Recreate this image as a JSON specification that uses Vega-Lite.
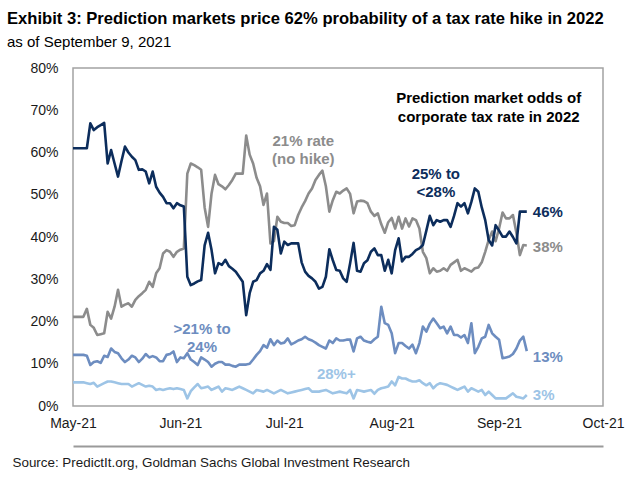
{
  "$schema": "https://vega.github.io/schema/vega-lite/v6.json",
  "width": 530,
  "height": 338,
  "autosize": "none",
  "padding": {"left": 73, "top": 68, "right": 27, "bottom": 72},
  "background": "white",
  "title": {
    "text": "Exhibit 3: Prediction markets price 62% probability of a tax rate hike in 2022",
    "subtitle": "as of September 9, 2021",
    "anchor": "start",
    "frame": "group",
    "dx": -66,
    "offset": 11,
    "font": "Liberation Sans",
    "fontSize": 16.6,
    "fontWeight": "bold",
    "color": "#000000",
    "subtitleFont": "Liberation Sans",
    "subtitleFontSize": 15,
    "subtitleColor": "#000000",
    "subtitlePadding": 7
  },
  "datasets": {
    "odds": [
      {"d":"2021-05-01","a":61,"b":21.1,"c":12.1,"e":5.6},
      {"d":"2021-05-02","a":61,"b":21.1,"c":12.1,"e":5.6},
      {"d":"2021-05-03","a":61,"b":21.1,"c":12.1,"e":5.6},
      {"d":"2021-05-04","a":61,"b":21.1,"c":12.1,"e":5.6},
      {"d":"2021-05-05","a":61,"b":23,"c":11.9,"e":5.4},
      {"d":"2021-05-06","a":66.9,"b":19.2,"c":9.7,"e":5.2},
      {"d":"2021-05-07","a":65.3,"b":18.5,"c":10.4,"e":5.5},
      {"d":"2021-05-08","a":66,"b":16.8,"c":10.6,"e":4.6},
      {"d":"2021-05-09","a":66.5,"b":17,"c":10.2,"e":5},
      {"d":"2021-05-10","a":67,"b":17.2,"c":11.9,"e":5.4},
      {"d":"2021-05-11","a":57.4,"b":22.3,"c":11.6,"e":5.8},
      {"d":"2021-05-12","a":60.6,"b":20.7,"c":13.6,"e":5.8},
      {"d":"2021-05-13","a":57.4,"b":23.5,"c":12.8,"e":5.6},
      {"d":"2021-05-14","a":54.3,"b":27.5,"c":12.5,"e":5.4},
      {"d":"2021-05-15","a":58,"b":23.5,"c":11.3,"e":5.2},
      {"d":"2021-05-16","a":61.4,"b":24,"c":10.4,"e":5.2},
      {"d":"2021-05-17","a":60,"b":24.3,"c":11,"e":5.2},
      {"d":"2021-05-18","a":59,"b":23.5,"c":11.9,"e":4.6},
      {"d":"2021-05-19","a":58.2,"b":25.1,"c":11.5,"e":5},
      {"d":"2021-05-20","a":55.9,"b":26,"c":10.4,"e":5.4},
      {"d":"2021-05-21","a":56,"b":26.7,"c":11.2,"e":5},
      {"d":"2021-05-22","a":55.5,"b":27.5,"c":12.3,"e":4.6},
      {"d":"2021-05-23","a":52.7,"b":29.4,"c":11.5,"e":4.8},
      {"d":"2021-05-24","a":55.5,"b":28.2,"c":11.8,"e":4.6},
      {"d":"2021-05-25","a":51.9,"b":31.4,"c":11.5,"e":3.8},
      {"d":"2021-05-26","a":50.5,"b":32.6,"c":10.6,"e":4},
      {"d":"2021-05-27","a":49.5,"b":36.1,"c":10.6,"e":3.8},
      {"d":"2021-05-28","a":48,"b":36.9,"c":12.1,"e":4},
      {"d":"2021-05-29","a":48,"b":36.5,"c":12.3,"e":4.2},
      {"d":"2021-05-30","a":46.8,"b":35.3,"c":12.9,"e":4},
      {"d":"2021-05-31","a":48,"b":36.5,"c":10.4,"e":4.2},
      {"d":"2021-06-01","a":47.5,"b":37,"c":11.5,"e":4},
      {"d":"2021-06-02","a":47.2,"b":37.3,"c":11.3,"e":3.8},
      {"d":"2021-06-03","a":30.6,"b":55,"c":12.5,"e":1.8},
      {"d":"2021-06-04","a":28.6,"b":57.4,"c":11,"e":3.5},
      {"d":"2021-06-05","a":29,"b":57,"c":10.4,"e":4.4},
      {"d":"2021-06-06","a":29.5,"b":56.5,"c":9.7,"e":5.2},
      {"d":"2021-06-07","a":29.8,"b":55.9,"c":11.5,"e":4.2},
      {"d":"2021-06-08","a":38,"b":47,"c":11,"e":4.4},
      {"d":"2021-06-09","a":41,"b":42.4,"c":10.4,"e":4.6},
      {"d":"2021-06-10","a":36.9,"b":50.3,"c":9.3,"e":3.8},
      {"d":"2021-06-11","a":31.4,"b":54.7,"c":10,"e":4.2},
      {"d":"2021-06-12","a":33.8,"b":52.5,"c":10.4,"e":4.6},
      {"d":"2021-06-13","a":33.4,"b":52,"c":10.4,"e":3.4},
      {"d":"2021-06-14","a":34.6,"b":51.3,"c":9.8,"e":4.2},
      {"d":"2021-06-15","a":33.1,"b":52.3,"c":9.8,"e":4},
      {"d":"2021-06-16","a":32.5,"b":53.5,"c":9.5,"e":3.8},
      {"d":"2021-06-17","a":31.8,"b":55,"c":9.3,"e":4.2},
      {"d":"2021-06-18","a":30.6,"b":55,"c":9.8,"e":4.6},
      {"d":"2021-06-19","a":29.4,"b":55,"c":9.8,"e":4.2},
      {"d":"2021-06-20","a":21.5,"b":64,"c":9.8,"e":3.8},
      {"d":"2021-06-21","a":26.7,"b":59.5,"c":10,"e":3.4},
      {"d":"2021-06-22","a":29.4,"b":57.4,"c":11,"e":3},
      {"d":"2021-06-23","a":29.8,"b":54,"c":12.1,"e":3.8},
      {"d":"2021-06-24","a":31.4,"b":52,"c":13,"e":3.6},
      {"d":"2021-06-25","a":32,"b":47.6,"c":14.4,"e":3.4},
      {"d":"2021-06-26","a":33.6,"b":50.3,"c":13.8,"e":3.8},
      {"d":"2021-06-27","a":32.2,"b":38.5,"c":15.8,"e":3.4},
      {"d":"2021-06-28","a":42.4,"b":39,"c":14.4,"e":3},
      {"d":"2021-06-29","a":41.7,"b":44.8,"c":15.5,"e":3.4},
      {"d":"2021-06-30","a":36.1,"b":43.6,"c":14.8,"e":3.8},
      {"d":"2021-07-01","a":38.9,"b":43.3,"c":15,"e":3.4},
      {"d":"2021-07-02","a":38.1,"b":43.3,"c":16,"e":3},
      {"d":"2021-07-03","a":38.5,"b":42.6,"c":14.6,"e":3.2},
      {"d":"2021-07-04","a":38.5,"b":42.8,"c":15,"e":3.4},
      {"d":"2021-07-05","a":38.5,"b":45.2,"c":15.5,"e":3.6},
      {"d":"2021-07-06","a":34,"b":47,"c":15.8,"e":3.8},
      {"d":"2021-07-07","a":31.8,"b":48.5,"c":16.4,"e":4},
      {"d":"2021-07-08","a":30.8,"b":50.3,"c":15.8,"e":4.2},
      {"d":"2021-07-09","a":30.2,"b":51.5,"c":15.5,"e":3.4},
      {"d":"2021-07-10","a":29.4,"b":53.5,"c":15,"e":3.4},
      {"d":"2021-07-11","a":27.8,"b":54.7,"c":14.4,"e":3.4},
      {"d":"2021-07-12","a":28.2,"b":55.7,"c":14,"e":3.6},
      {"d":"2021-07-13","a":30.6,"b":52,"c":13.6,"e":3.8},
      {"d":"2021-07-14","a":37.1,"b":46,"c":15.5,"e":3.4},
      {"d":"2021-07-15","a":34.5,"b":48.7,"c":14.9,"e":3},
      {"d":"2021-07-16","a":32.2,"b":50.7,"c":16,"e":3.2},
      {"d":"2021-07-17","a":32,"b":50.3,"c":15.5,"e":3.4},
      {"d":"2021-07-18","a":30.2,"b":51,"c":15.5,"e":3.2},
      {"d":"2021-07-19","a":29.4,"b":51.5,"c":15.7,"e":3},
      {"d":"2021-07-20","a":33.8,"b":50.2,"c":15.7,"e":3.8},
      {"d":"2021-07-21","a":38.6,"b":45.6,"c":12.9,"e":1.8},
      {"d":"2021-07-22","a":32,"b":48.4,"c":16,"e":3.8},
      {"d":"2021-07-23","a":31.8,"b":48.6,"c":16.4,"e":3.6},
      {"d":"2021-07-24","a":33.8,"b":48.5,"c":15.5,"e":3.4},
      {"d":"2021-07-25","a":34.5,"b":48,"c":15.2,"e":3.6},
      {"d":"2021-07-26","a":36.5,"b":46,"c":15,"e":3.8},
      {"d":"2021-07-27","a":37.3,"b":45,"c":15.8,"e":2.9},
      {"d":"2021-07-28","a":35.7,"b":45.6,"c":16.4,"e":3.8},
      {"d":"2021-07-29","a":35.7,"b":43,"c":23.5,"e":4.2},
      {"d":"2021-07-30","a":32,"b":41,"c":19.6,"e":4.4},
      {"d":"2021-07-31","a":34.6,"b":43.5,"c":19.2,"e":4.6},
      {"d":"2021-08-01","a":31.4,"b":44.5,"c":17.2,"e":5.8},
      {"d":"2021-08-02","a":36.9,"b":42,"c":12.5,"e":4.9},
      {"d":"2021-08-03","a":39.7,"b":44.8,"c":14.9,"e":6.9},
      {"d":"2021-08-04","a":34.2,"b":42,"c":14.9,"e":6.5},
      {"d":"2021-08-05","a":35.3,"b":44.4,"c":14.2,"e":6.5},
      {"d":"2021-08-06","a":35.3,"b":42.5,"c":13.6,"e":6.1},
      {"d":"2021-08-07","a":36,"b":44.4,"c":14.5,"e":5.8},
      {"d":"2021-08-08","a":36.9,"b":44,"c":12.5,"e":5.8},
      {"d":"2021-08-09","a":37.3,"b":42,"c":14.9,"e":6.1},
      {"d":"2021-08-10","a":38.1,"b":36.5,"c":18.8,"e":5.4},
      {"d":"2021-08-11","a":41.5,"b":35,"c":17.6,"e":4.9},
      {"d":"2021-08-12","a":45,"b":31.4,"c":19.5,"e":5.4},
      {"d":"2021-08-13","a":42.8,"b":32.6,"c":20.7,"e":4.2},
      {"d":"2021-08-14","a":44,"b":31.8,"c":19.6,"e":5},
      {"d":"2021-08-15","a":43.6,"b":32,"c":18.4,"e":5.4},
      {"d":"2021-08-16","a":44,"b":32.6,"c":18.8,"e":5.2},
      {"d":"2021-08-17","a":44,"b":32,"c":17.2,"e":5},
      {"d":"2021-08-18","a":42.4,"b":33.4,"c":18.8,"e":4.6},
      {"d":"2021-08-19","a":45,"b":34,"c":16.8,"e":4.2},
      {"d":"2021-08-20","a":48,"b":34.6,"c":16.8,"e":3.8},
      {"d":"2021-08-21","a":47.2,"b":32,"c":16.2,"e":4.2},
      {"d":"2021-08-22","a":48,"b":32.6,"c":16.8,"e":4.6},
      {"d":"2021-08-23","a":45.6,"b":32.2,"c":14.9,"e":3.4},
      {"d":"2021-08-24","a":48.3,"b":31.8,"c":19.6,"e":4.2},
      {"d":"2021-08-25","a":51.5,"b":32.6,"c":12.5,"e":3.8},
      {"d":"2021-08-26","a":50.7,"b":32.8,"c":14,"e":3.4},
      {"d":"2021-08-27","a":47,"b":34,"c":16,"e":3.8},
      {"d":"2021-08-28","a":44,"b":36.5,"c":16.4,"e":2.6},
      {"d":"2021-08-29","a":39.3,"b":39.3,"c":19.2,"e":3.4},
      {"d":"2021-08-30","a":38,"b":41.3,"c":17.2,"e":2.6},
      {"d":"2021-08-31","a":42.8,"b":39,"c":16.4,"e":1.8},
      {"d":"2021-09-01","a":41.5,"b":42,"c":15.7,"e":1.8},
      {"d":"2021-09-02","a":40.1,"b":45.8,"c":11.3,"e":1.8},
      {"d":"2021-09-03","a":40.1,"b":44.4,"c":11.5,"e":1.8},
      {"d":"2021-09-04","a":41.3,"b":44.4,"c":11.7,"e":2.4},
      {"d":"2021-09-05","a":40,"b":45.2,"c":12.3,"e":3},
      {"d":"2021-09-06","a":38.5,"b":41,"c":13.6,"e":2.2},
      {"d":"2021-09-07","a":46,"b":35.7,"c":15.5,"e":2},
      {"d":"2021-09-08","a":46,"b":38.1,"c":16.4,"e":1.8},
      {"d":"2021-09-09","a":46,"b":38,"c":13,"e":2.6}
    ],
    "labels": [
      {"d":"2021-07-06T12:00:00Z","v":62.7,"s":"b","t":"21% rate\n(no hike)"},
      {"d":"2021-08-13T18:00:00Z","v":55,"s":"a","t":"25% to\n<28%"},
      {"d":"2021-06-07T06:00:00Z","v":18.2,"s":"c","t":">21% to\n24%"},
      {"d":"2021-07-16T00:00:00Z","v":7.6,"s":"e","t":"28%+"}
    ],
    "ends": [
      {"d":"2021-09-09","v":45.9,"s":"a","t":"46%"},
      {"d":"2021-09-09","v":37.7,"s":"b","t":"38%"},
      {"d":"2021-09-09","v":11.7,"s":"c","t":"13%"},
      {"d":"2021-09-09","v":2.6,"s":"e","t":"3%"}
    ],
    "box": [
      {"d":"2021-08-29T00:00:00Z","v":72.9,"t":"Prediction market odds of\ncorporate tax rate in 2022"}
    ]
  },
  "resolve": {"axis": {"x": "independent"}},
  "layer": [
    {
      "data": {"name": "odds"},
      "transform": [{"fold": ["e", "c", "b", "a"], "as": ["s", "v"]}],
      "mark": {"type": "line", "strokeWidth": 2.6, "strokeJoin": "round"},
      "encoding": {
        "x": {
          "field": "d", "type": "temporal",
          "scale": {"type": "utc", "domain": [{"year":2021,"month":"May","date":1,"utc":true},{"year":2021,"month":"Oct","date":1,"utc":true}]},
          "axis": {
            "orient": "bottom",
            "values": [{"year":2021,"month":"May","date":1,"utc":true},{"year":2021,"month":"Jun","date":1,"utc":true},{"year":2021,"month":"Jul","date":1,"utc":true},{"year":2021,"month":"Aug","date":1,"utc":true},{"year":2021,"month":"Sep","date":1,"utc":true},{"year":2021,"month":"Oct","date":1,"utc":true}],
            "format": "%b-%y",
            "title": null, "domain": false, "ticks": false, "grid": false,
            "labelFlush": false, "labelOverlap": false, "labelPadding": 10,
            "labelFont": "Liberation Sans", "labelFontSize": 14, "labelColor": "#1a1a1a"
          }
        },
        "y": {
          "field": "v", "type": "quantitative",
          "scale": {"domain": [0, 80]},
          "axis": {"values": [0,10,20,30,40,50,60,70,80], "labelExpr": "datum.value + '%'", "title": null, "domain": false, "ticks": false, "grid": false, "labelPadding": 15, "labelFont": "Liberation Sans", "labelFontSize": 14, "labelColor": "#1a1a1a"}
        },
        "color": {
          "field": "s", "type": "nominal",
          "scale": {"domain": ["a","b","c","e"], "range": ["#0c2d5c","#8c8c8c","#6d8dc0","#9dc4e6"]},
          "legend": null
        }
      }
    },
    {
      "data": {"name": "labels"},
      "mark": {"type": "text", "align": "center", "baseline": "middle", "lineBreak": "\n", "lineHeight": 18, "font": "Liberation Sans", "fontSize": 15, "fontWeight": "bold"},
      "encoding": {
        "x": {"field": "d", "type": "temporal", "axis": null},
        "y": {"field": "v", "type": "quantitative",
          "axis": {"values": [0,10,20,30,40,50,60,70,80], "labelExpr": "datum.value + '%'", "title": null, "domain": false, "ticks": false, "grid": false, "labelPadding": 15, "labelFont": "Liberation Sans", "labelFontSize": 14, "labelColor": "#1a1a1a"}},
        "text": {"field": "t"},
        "color": {"field": "s", "type": "nominal", "legend": null}
      }
    },
    {
      "data": {"name": "ends"},
      "mark": {"type": "text", "align": "left", "baseline": "middle", "dx": 6, "font": "Liberation Sans", "fontSize": 15, "fontWeight": "bold"},
      "encoding": {
        "x": {"field": "d", "type": "temporal", "axis": null},
        "y": {"field": "v", "type": "quantitative",
          "axis": {"values": [0,10,20,30,40,50,60,70,80], "labelExpr": "datum.value + '%'", "title": null, "domain": false, "ticks": false, "grid": false, "labelPadding": 15, "labelFont": "Liberation Sans", "labelFontSize": 14, "labelColor": "#1a1a1a"}},
        "text": {"field": "t"},
        "color": {"field": "s", "type": "nominal", "legend": null}
      }
    },
    {
      "data": {"name": "box"},
      "mark": {"type": "text", "align": "center", "baseline": "middle", "lineBreak": "\n", "lineHeight": 19, "font": "Liberation Sans", "fontSize": 15, "fontWeight": "bold", "color": "#000000"},
      "encoding": {
        "x": {"field": "d", "type": "temporal",
          "axis": {"orient": "bottom", "offset": 40, "domain": true, "domainColor": "#9a9a9a", "domainWidth": 2, "labels": false, "ticks": false, "grid": false,
            "title": "Source: PredictIt.org, Goldman Sachs Global Investment Research",
            "titleX": -61, "titleY": 20, "titleAlign": "left", "titleAnchor": "start", "titleBaseline": "alphabetic",
            "titleFont": "Liberation Sans", "titleFontSize": 13.4, "titleFontWeight": "normal", "titleColor": "#1a1a1a"}},
        "y": {"field": "v", "type": "quantitative",
          "axis": {"values": [0,10,20,30,40,50,60,70,80], "labelExpr": "datum.value + '%'", "title": null, "domain": false, "ticks": false, "grid": false, "labelPadding": 15, "labelFont": "Liberation Sans", "labelFontSize": 14, "labelColor": "#1a1a1a"}},
        "text": {"field": "t"}
      }
    }
  ],
  "config": {
    "view": {"stroke": "#a3a3a3", "strokeWidth": 1.5},
    "font": "Liberation Sans"
  }
}
